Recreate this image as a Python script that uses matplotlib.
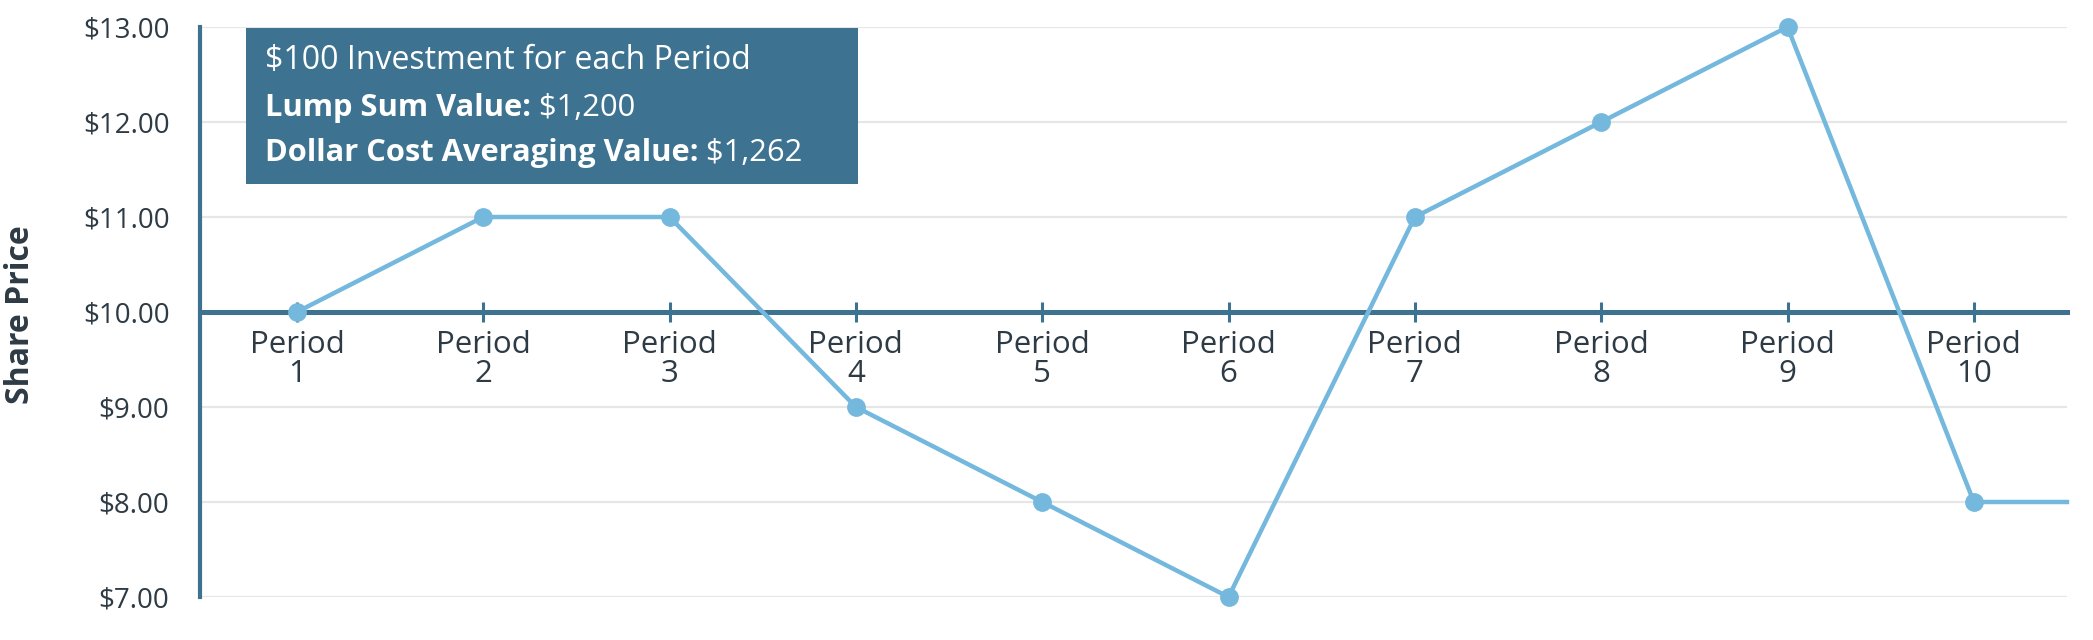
import matplotlib
matplotlib.use("Agg")
import matplotlib.pyplot as plt
from matplotlib.patches import Rectangle

# share price at the end of each period
periods = [1, 2, 3, 4, 5, 6, 7, 8, 9, 10]
prices = [10, 11, 11, 9, 8, 7, 11, 12, 13, 8]
period_labels = ["Period\n%d" % p for p in periods]
y_ticks = [7, 8, 9, 10, 11, 12, 13]
y_labels = ["$%.2f" % v for v in y_ticks]

box_title = "$100 Investment for each Period"
box_rows = [("Lump Sum Value:", " $1,200"),
            ("Dollar Cost Averaging Value:", " $1,262")]

teal = "#3d7390"
blue = "#74b8de"
txt = "#2e3b45"

plt.rcParams["font.family"] = ["Open Sans", "DejaVu Sans"]

W, H = 2093, 640
fig = plt.figure(figsize=(W / 100, H / 100), dpi=100)
ax = fig.add_axes([200 / W, 43 / H, 1867 / W, 570 / H])
ax.set_xlim(0.48, 10.5)
ax.set_ylim(7, 13)

# grid
ax.set_yticks(y_ticks)
ax.set_yticklabels(y_labels)
ax.yaxis.grid(True, color="#e6e6e6", lw=1.6, zorder=0)
ax.set_axisbelow(True)

for s in ["top", "right"]:
    ax.spines[s].set_visible(False)
ax.spines["left"].set_color(teal)
ax.spines["left"].set_linewidth(3)
ax.spines["bottom"].set_position(("data", 10))
ax.spines["bottom"].set_color(teal)
ax.spines["bottom"].set_linewidth(3.6)

ax.tick_params(axis="y", length=0, pad=22, labelsize=20, labelcolor=txt)
ax.set_xticks(periods)
ax.set_xticklabels(period_labels, linespacing=0.97)
ax.tick_params(axis="x", direction="inout", length=14, width=2.2, color=teal,
               pad=6, labelsize=22.5, labelcolor=txt)

# price line
ax.plot(periods, prices, color=blue, lw=3.2, marker="o", ms=12.5,
        zorder=4, clip_on=False)
ax.plot([periods[-1], ax.get_xlim()[1]], [prices[-1], prices[-1]],
        color=blue, lw=3.2, zorder=4, clip_on=False)

# y label
fig.text(21 / W, 1 - 315 / H, "Share Price", rotation=90, fontsize=23,
         fontweight="bold", color=txt, ha="center", va="center")

# info box
fig.patches.append(Rectangle((246 / W, 1 - 184 / H), 612 / W, 156 / H,
                             transform=fig.transFigure, facecolor=teal,
                             edgecolor="none", zorder=5))
x0 = 265 / W
fig.text(x0, 1 - 69 / H, box_title, color="white", fontsize=23,
         va="baseline", zorder=6)
r = fig.canvas.get_renderer()
ys = [1 - 116 / H, 1 - 161 / H]
for (b, n), y in zip(box_rows, ys):
    t = fig.text(x0, y, b, color="white", fontsize=22.2, fontweight="bold",
                 va="baseline", zorder=6)
    bb = t.get_window_extent(renderer=r)
    fig.text(bb.x1 / W, y, n, color="white", fontsize=22.2, va="baseline",
             zorder=6)

fig.savefig("out.png", dpi=100)
